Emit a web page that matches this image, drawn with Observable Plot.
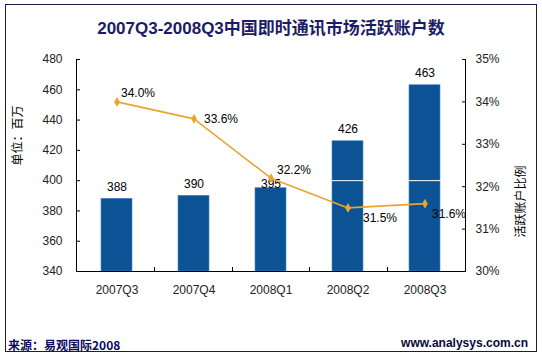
<!DOCTYPE html>
<html>
<head>
<meta charset="utf-8">
<script src="https://cdn.jsdelivr.net/npm/d3@7"></script>
<script src="https://cdn.jsdelivr.net/npm/@observablehq/plot@0.6"></script>
<style>
  html, body { margin: 0; padding: 0; background: #fff; }
  #wrap { position: relative; width: 542px; height: 358px; overflow: hidden; background: #fff; }
  #border { position: absolute; left: 5px; top: 4px; width: 530px; height: 346px; border: 1px solid #1a1a50; }
  #title { position: absolute; left: 0; width: 542px; top: 14px; text-align: center;
    font: bold 17px "Liberation Sans", "Noto Sans CJK SC", sans-serif; color: #1c1c66; }
  #src { position: absolute; left: 8px; top: 336px; font: bold 12px "Noto Sans CJK SC", "Liberation Sans", sans-serif; color: #0a0a5a; }
  #url { position: absolute; right: 14px; top: 336px; font: bold 12px "Liberation Sans", sans-serif; color: #0a0a3a; }
  #chart { position: absolute; left: 0; top: 0; }
</style>
</head>
<body>
<div id="wrap">
  <div id="border"></div>
  <div id="chart"></div>
  <div id="title">2007Q3-2008Q3中国即时通讯市场活跃账户数</div>
  <div id="src">来源：易观国际2008</div>
  <div id="url">www.analysys.com.cn</div>
</div>
<script>
// ---- data ----
const categories = ["2007Q3", "2007Q4", "2008Q1", "2008Q2", "2008Q3"];
const accounts = [388, 390, 395, 426, 463];           // 百万
const ratios = [34.0, 33.6, 32.2, 31.5, 31.6];         // %
const leftTicks = [340, 360, 380, 400, 420, 440, 460, 480];
const rightTicks = [30, 31, 32, 33, 34, 35];
const leftTitle = "单位：百万";
const rightTitle = "活跃账户比例";

// map the right (percent) axis onto the left scale domain
const L0 = 340, L1 = 480, R0 = 30, R1 = 35;
const toLeft = p => L0 + (p - R0) / (R1 - R0) * (L1 - L0);

const rows = categories.map((c, i) => ({cat: c, acc: accounts[i], ratio: ratios[i], ry: toLeft(ratios[i])}));

const axisLines = (index, scales, values, dim) => {
  const g = d3.create("svg:g").attr("stroke", "#000").attr("fill", "none");
  const x0 = dim.marginLeft, x1 = dim.width - dim.marginRight;
  const y0 = dim.marginTop, y1 = dim.height - dim.marginBottom;
  g.append("path").attr("d", `M${x0 + 0.5},${y0}V${y1 + 0.5}H${x1 + 0.5}V${y0}`);
  // category separator ticks on baseline
  const bw = (x1 - x0) / categories.length;
  for (let i = 1; i < categories.length; i++) {
    const x = Math.round(x0 + i * bw) + 0.5;
    g.append("path").attr("d", `M${x},${y1}v-4`);
  }
  return g.node();
};

const labelOffsets = [
  {dx: 4, dy: -9},
  {dx: 10, dy: 0},
  {dx: 6, dy: -8},
  {dx: 15, dy: 10},
  {dx: 7, dy: 10}
];

const pctMarks = rows.map((r, i) => Plot.text(rows, {
  filter: (d, j) => j === i,
  x: "cat", y: "ry", text: d => d.ratio.toFixed(1) + "%",
  textAnchor: "start", dx: labelOffsets[i].dx, dy: labelOffsets[i].dy,
  fontSize: 12, fill: "#000", fontFamily: "Liberation Sans, Arial, sans-serif"
}));

const chart = Plot.plot({
  width: 542,
  height: 358,
  marginLeft: 76,
  marginRight: 77,
  marginTop: 59,
  marginBottom: 87,
  style: {fontFamily: "Liberation Sans, Arial, sans-serif", fontSize: "12px", background: "transparent", overflow: "visible"},
  x: {domain: categories, paddingInner: 0.6, paddingOuter: 0.3, axis: null},
  y: {domain: [L0, L1], axis: null},
  marks: [
    Plot.barY(rows, {x: "cat", y1: L0, y2: "acc", fill: "#0b5394", stroke: "#4a86c8", strokeWidth: 0.6}),
    Plot.ruleY([400], {stroke: "#fff", strokeWidth: 1}),
    axisLines,
    Plot.axisX({domain: categories, tickSize: 0, tickPadding: 14, fontSize: 12, fill: "#222", label: null}),
    Plot.axisY({ticks: leftTicks, tickSize: -4, tickPadding: 18, fontSize: 12, fill: "#222", label: null}),
    Plot.axisY({anchor: "right", ticks: rightTicks.map(toLeft), tickFormat: v => Math.round(R0 + (v - L0) / (L1 - L0) * (R1 - R0)) + "%",
      tickSize: -4, tickPadding: 14, fontSize: 12, fill: "#222", label: null}),
    Plot.text([leftTitle], {frameAnchor: "left", dx: -58, rotate: -90, text: d => d, fontSize: 12,
      fontFamily: "Noto Sans CJK SC, sans-serif", fill: "#000"}),
    Plot.text([rightTitle], {frameAnchor: "right", dx: 56, rotate: -90, text: d => d, fontSize: 12,
      fontFamily: "Noto Sans CJK SC, sans-serif", fill: "#000"}),
    Plot.text(rows, {x: "cat", y: "acc", text: d => String(d.acc), dy: -12, fontSize: 12, fill: "#000",
      filter: (d, i) => i !== 2}),
    Plot.text(rows, {x: "cat", y: "acc", text: d => String(d.acc), dy: -4, fontSize: 12, fill: "#000",
      filter: (d, i) => i === 2}),
    Plot.line(rows, {x: "cat", y: "ry", stroke: "#eca42e", strokeWidth: 1.6}),
    Plot.dot(rows, {x: "cat", y: "ry", symbol: "diamond", r: 3, fill: "#eca42e"}),
    ...pctMarks
  ]
});
document.getElementById("chart").appendChild(chart);
</script>
</body>
</html>
